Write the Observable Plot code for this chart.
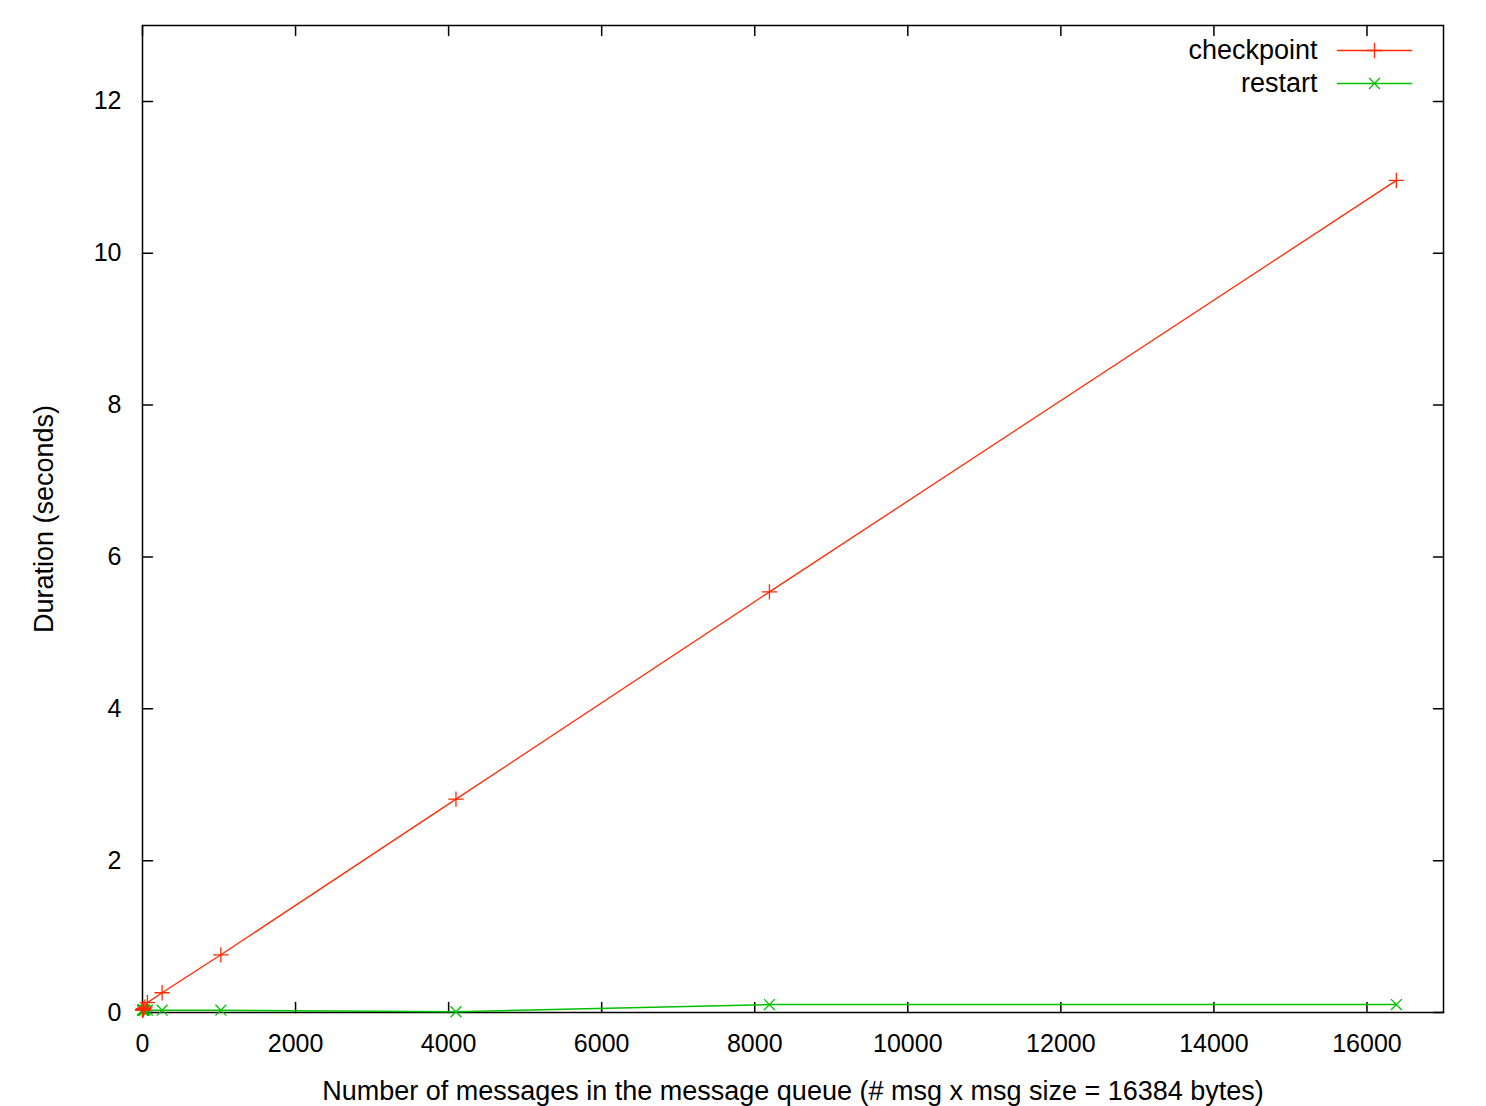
<!DOCTYPE html>
<html>
<head>
<meta charset="utf-8">
<script src="https://cdn.jsdelivr.net/npm/d3@7"></script>
<script src="https://cdn.jsdelivr.net/npm/@observablehq/plot@0.6"></script>
<style>
  html, body { margin: 0; padding: 0; background: #fff; }
  #chart svg { display: block; }
</style>
</head>
<body>
<div id="chart"></div>
<script>
// Message counts (x) and durations in seconds (y)
const messages = [1, 2, 4, 8, 16, 32, 64, 256, 1024, 4096, 8192, 16384];
const checkpoint = [0.03, 0.03, 0.04, 0.04, 0.05, 0.07, 0.13, 0.26, 0.76, 2.81, 5.54, 10.96];
const restart = [0.03, 0.03, 0.03, 0.03, 0.03, 0.03, 0.03, 0.03, 0.03, 0.01, 0.105, 0.105];
const xTicks = [0, 2000, 4000, 6000, 8000, 10000, 12000, 14000, 16000];
const yTicks = [0, 2, 4, 6, 8, 10, 12];
const seriesNames = ["checkpoint", "restart"];
const seriesColors = ["#ff2a00", "#00c000"];
const xDomain = [0, 17000];
const yDomain = [0, 13];

const cp = messages.map((m, i) => ({x: m, y: checkpoint[i]}));
const rs = messages.map((m, i) => ({x: m, y: restart[i]}));

const tickShape = {draw(context, l) { context.moveTo(0, 0); context.lineTo(0, -l); }};
const lineShape = {draw(context, l) { context.moveTo(0, 0); context.lineTo(0, -l); }};
const font = "'Liberation Sans', Arial, Helvetica, sans-serif";
const fmt = d3.format("d");

const chart = Plot.plot({
  width: 1486,
  height: 1106,
  marginLeft: 142,
  marginRight: 43,
  marginTop: 25,
  marginBottom: 94,
  style: {fontFamily: font, fontSize: "25px", color: "#000", background: "#fff"},
  x: {domain: xDomain, ticks: xTicks, tickFormat: fmt},
  y: {domain: yDomain, ticks: yTicks, tickFormat: fmt},
  marks: [
    Plot.frame({stroke: "#000", strokeWidth: 1.5}),
    // inward ticks on all four sides
    Plot.vector(xTicks, {x: d => d, y: yDomain[0], length: 10, rotate: 0, anchor: "start", shape: tickShape, stroke: "#000", strokeWidth: 1.5}),
    Plot.vector(xTicks, {x: d => d, y: yDomain[1], length: 10, rotate: 180, anchor: "start", shape: tickShape, stroke: "#000", strokeWidth: 1.5}),
    Plot.vector(yTicks, {y: d => d, x: xDomain[0], length: 10, rotate: 90, anchor: "start", shape: tickShape, stroke: "#000", strokeWidth: 1.5}),
    Plot.vector(yTicks, {y: d => d, x: xDomain[1], length: 10, rotate: -90, anchor: "start", shape: tickShape, stroke: "#000", strokeWidth: 1.5}),
    Plot.axisX(xTicks, {tickSize: 0, tickPadding: 22, label: null, fontSize: 25, tickFormat: fmt}),
    Plot.axisY(yTicks, {tickSize: 0, tickPadding: 21, label: null, fontSize: 25, tickFormat: fmt}),
    Plot.text(["Number of messages in the message queue (# msg x msg size = 16384 bytes)"],
      {frameAnchor: "bottom", dy: 79, fontSize: 27, fill: "#000", lineAnchor: "middle"}),
    Plot.text(["Duration (seconds)"],
      {frameAnchor: "left", dx: -98, rotate: -90, textAnchor: "middle", fontSize: 27, fill: "#000"}),
    // series
    Plot.line(rs, {x: "x", y: "y", stroke: seriesColors[1], strokeWidth: 1.5}),
    Plot.dot(rs, {x: "x", y: "y", symbol: "times", r: 5, stroke: seriesColors[1], strokeWidth: 1.3}),
    Plot.line(cp, {x: "x", y: "y", stroke: seriesColors[0], strokeWidth: 1.3}),
    Plot.dot(cp, {x: "x", y: "y", symbol: "plus", r: 5, stroke: seriesColors[0], strokeWidth: 1.3}),
    // legend
    Plot.text([seriesNames[0]], {frameAnchor: "top-right", dx: -126, dy: 25, textAnchor: "end", lineAnchor: "middle", fontSize: 27, fill: "#000"}),
    Plot.text([seriesNames[1]], {frameAnchor: "top-right", dx: -126, dy: 58, textAnchor: "end", lineAnchor: "middle", fontSize: 27, fill: "#000"}),
    Plot.vector([0], {frameAnchor: "top-right", dx: -106, dy: 25, rotate: 90, length: 74, anchor: "start", shape: lineShape, stroke: seriesColors[0], strokeWidth: 1.3}),
    Plot.vector([0], {frameAnchor: "top-right", dx: -106, dy: 58, rotate: 90, length: 74, anchor: "start", shape: lineShape, stroke: seriesColors[1], strokeWidth: 1.3}),
    Plot.dot([0], {frameAnchor: "top-right", dx: -69, dy: 25, symbol: "plus", r: 5, stroke: seriesColors[0], strokeWidth: 1.3}),
    Plot.dot([0], {frameAnchor: "top-right", dx: -69, dy: 58, symbol: "times", r: 5, stroke: seriesColors[1], strokeWidth: 1.3})
  ]
});
document.getElementById("chart").appendChild(chart);
</script>
</body>
</html>
